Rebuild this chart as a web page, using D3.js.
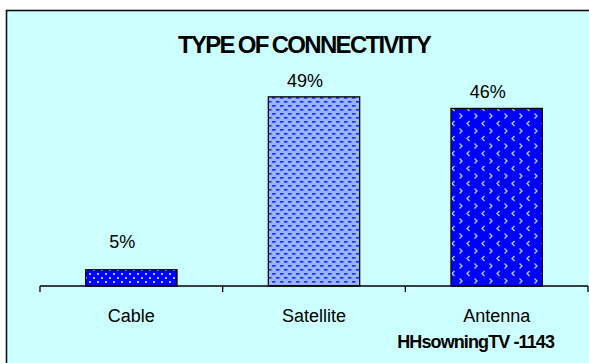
<!DOCTYPE html>
<html>
<head>
<meta charset="utf-8">
<script src="https://cdn.jsdelivr.net/npm/d3@7"></script>
<style>
  html, body { margin: 0; padding: 0; background: #fff; }
  text { font-family: "Liberation Sans", Arial, sans-serif; fill: #000; }
</style>
</head>
<body>
<div id="chart"></div>
<script>
const categories = ['Cable', 'Satellite', 'Antenna'];
const shares = [4.2, 49, 46];
const shareLabels = ['5%', '49%', '46%'];
const title = 'TYPE OF CONNECTIVITY';
const footnote = 'HHsowningTV -1143';

const width = 589, height = 363;

const svg = d3.select('#chart')
    .append('svg')
    .attr('width', width)
    .attr('height', height);

// fill patterns like the old excel ones
const defs = svg.append('defs');

const dots = defs.append('pattern')
    .attr('id', 'pat-cable')
    .attr('patternUnits', 'userSpaceOnUse')
    .attr('width', 8).attr('height', 8);
dots.append('rect').attr('width', 8).attr('height', 8).attr('fill', '#0000ff');
dots.append('rect').attr('x', 1).attr('y', 1).attr('width', 2).attr('height', 2).attr('fill', '#a8ccff');
dots.append('rect').attr('x', 5).attr('y', 5).attr('width', 2).attr('height', 2).attr('fill', '#a8ccff');

const dashes = defs.append('pattern')
    .attr('id', 'pat-satellite')
    .attr('patternUnits', 'userSpaceOnUse')
    .attr('width', 8).attr('height', 8);
dashes.append('rect').attr('width', 8).attr('height', 8).attr('fill', '#99b3ff');
dashes.append('rect').attr('x', 0).attr('y', 1).attr('width', 3.5).attr('height', 1.6).attr('fill', '#0a2cff');
dashes.append('rect').attr('x', 4).attr('y', 5).attr('width', 3.5).attr('height', 1.6).attr('fill', '#0a2cff');

const chevrons = defs.append('pattern')
    .attr('id', 'pat-antenna')
    .attr('patternUnits', 'userSpaceOnUse')
    .attr('width', 15).attr('height', 15);
chevrons.append('rect').attr('width', 15).attr('height', 15).attr('fill', '#0000ff');
chevrons.append('path').attr('d', 'M4.5,1 L2,3.5 L4.5,6')
    .attr('fill', 'none').attr('stroke', '#b4d2ff').attr('stroke-width', 1.3);
chevrons.append('path').attr('d', 'M9.5,8.5 L12,11 L9.5,13.5')
    .attr('fill', 'none').attr('stroke', '#b4d2ff').attr('stroke-width', 1.3);

const fills = ['url(#pat-cable)', 'url(#pat-satellite)', 'url(#pat-antenna)'];

// chart area, frame runs off the right and bottom edge
svg.append('rect')
    .attr('x', 6.5).attr('y', 10.5)
    .attr('width', 620).attr('height', 400)
    .attr('fill', '#ccffff')
    .attr('stroke', '#111')
    .attr('stroke-width', 1.6);

const x = d3.scaleBand()
    .domain(categories)
    .range([40, 588])
    .paddingInner(0.5)
    .paddingOuter(0.25);

const y = d3.scaleLinear()
    .domain([0, 50])
    .range([286, 93]);

const data = categories.map((c, i) => ({ cat: c, value: shares[i], label: shareLabels[i], fill: fills[i] }));

svg.selectAll('rect.bar')
    .data(data)
    .join('rect')
    .attr('class', 'bar')
    .attr('x', d => x(d.cat))
    .attr('y', d => y(d.value))
    .attr('width', x.bandwidth())
    .attr('height', d => y(0) - y(d.value))
    .attr('fill', d => d.fill)
    .attr('stroke', '#000')
    .attr('stroke-width', 1.3);

// axis with ticks between the categories
const step = x.step();
const edges = d3.range(categories.length + 1).map(i => x(categories[0]) - x.paddingOuter() * step + i * step);
const axis = svg.append('g');
axis.append('line')
    .attr('x1', edges[0]).attr('x2', edges[edges.length - 1])
    .attr('y1', y(0)).attr('y2', y(0))
    .attr('stroke', '#000').attr('stroke-width', 1.3);
axis.selectAll('line.tick')
    .data(edges)
    .join('line')
    .attr('class', 'tick')
    .attr('x1', d => d).attr('x2', d => d)
    .attr('y1', y(0)).attr('y2', y(0) + 6)
    .attr('stroke', '#000').attr('stroke-width', 1.3);

axis.selectAll('text.cat')
    .data(categories)
    .join('text')
    .attr('class', 'cat')
    .attr('x', d => x(d) + x.bandwidth() / 2)
    .attr('y', 322)
    .attr('text-anchor', 'middle')
    .attr('font-size', 18)
    .text(d => d);

// value labels sit a little left of the bar centre in the original,
// and the small one was pulled up a bit
svg.selectAll('text.val')
    .data(data)
    .join('text')
    .attr('class', 'val')
    .attr('x', d => x(d.cat) + x.bandwidth() / 2 - 9)
    .attr('y', d => y(d.value) - (d.value < 10 ? 22 : 10))
    .attr('text-anchor', 'middle')
    .attr('font-size', 18)
    .text(d => d.label);

svg.append('text')
    .attr('x', 304)
    .attr('y', 53)
    .attr('text-anchor', 'middle')
    .attr('font-size', 24)
    .attr('font-weight', 'bold')
    .attr('letter-spacing', -1.7)
    .attr('word-spacing', -1)
    .text(title);

svg.append('text')
    .attr('x', 554)
    .attr('y', 348)
    .attr('text-anchor', 'end')
    .attr('font-size', 18)
    .attr('font-weight', 'bold')
    .attr('letter-spacing', -0.9)
    .text(footnote);
</script>
</body>
</html>
